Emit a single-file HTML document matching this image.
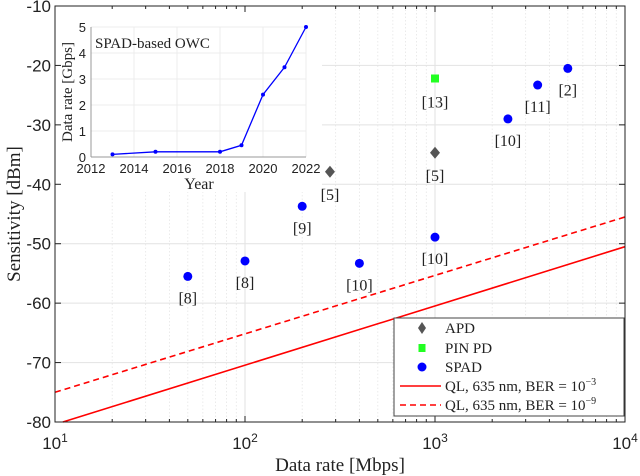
<!DOCTYPE html>
<html><head><meta charset="utf-8"><style>
body{margin:0;background:#fff}
svg{display:block}
text{font-family:"Liberation Sans",sans-serif}
.serif{font-family:"Liberation Serif",serif}
</style></head><body>
<svg id="chart" width="640" height="476" viewBox="0 0 640 476"></svg>
<script>
// main chart data
const apdRates=[280,1000];
const apdSens=[-37.9,-34.7];
const apdRefs=["[5]","[5]"];
const pinRates=[1000];
const pinSens=[-22.2];
const pinRefs=["[13]"];
const spadRates=[50,100,200,400,1000,2420,3470,5000];
const spadSens=[-55.5,-52.9,-43.7,-53.3,-48.9,-29.0,-23.3,-20.5];
const spadRefs=["[8]","[8]","[9]","[10]","[10]","[10]","[11]","[2]"];
const qlRates=[11,10000];
const ql3Sens=[-80,-50.5];
const ql9Sens=[-75,-45.5];
const yTicks=[-10,-20,-30,-40,-50,-60,-70,-80];
const xDecades=[1,2,3,4];
// inset data
const insetYears=[2013,2015,2018,2019,2020,2021,2022];
const insetRates=[0.1,0.2,0.2,0.45,2.4,3.45,5];
const insetXTicks=[2012,2014,2016,2018,2020,2022];
const insetYTicks=[0,1,2,3,4,5];

const NS="http://www.w3.org/2000/svg";
const svg=document.getElementById('chart');
function mk(tag,attrs,parent,txt){const e=document.createElementNS(NS,tag);for(const k in attrs)e.setAttribute(k,attrs[k]);if(txt!==undefined)e.textContent=txt;(parent||svg).appendChild(e);return e;}
const L=55,R=625,T=6,B=422;
const xs=v=>L+(Math.log10(v)-1)/3*(R-L);
const ys=v=>T+(-10-v)/70*(B-T);

// grid
let g=mk('g',{});


for(let d=1;d<4;d++)for(let m=1;m<10;m++){const x=xs(m*Math.pow(10,d));if(m===1)mk('line',{x1:x,x2:x,y1:T,y2:B,stroke:'#e2e2e2','stroke-width':1},g);else mk('line',{x1:x,x2:x,y1:T,y2:B,stroke:'#e6e6e6','stroke-width':0.8,'stroke-dasharray':'1.5,2'},g);}
yTicks.forEach(v=>mk('line',{x1:L,x2:R,y1:ys(v),y2:ys(v),stroke:'#e2e2e2','stroke-width':1},g));

// inset background
const inBg=mk('rect',{x:56,y:8,width:266,height:184,fill:'#fff'});



// QL lines
const l3=mk('line',{x1:xs(qlRates[0]),y1:ys(ql3Sens[0]),x2:xs(qlRates[1]),y2:ys(ql3Sens[1]),stroke:'#f00','stroke-width':1.6});


const l9=mk('line',{x1:xs(10),y1:ys(ql9Sens[0]),x2:xs(qlRates[1]),y2:ys(ql9Sens[1]),stroke:'#f00','stroke-width':1.6,'stroke-dasharray':'6,4'});



function label(x,y,t){const e=mk('text',{x:x,y:y,'text-anchor':'middle','font-size':16,fill:'#222',class:'serif'},svg,t);}
apdRates.forEach((r,i)=>{const x=xs(r),y=ys(apdSens[i]);const p=mk('polygon',{points:`${x},${y-6} ${x+5},${y} ${x},${y+6} ${x-5},${y}`,fill:'#555'});label(x,y+28,apdRefs[i]);});
pinRates.forEach((r,i)=>{const x=xs(r),y=ys(pinSens[i]);const p=mk('rect',{x:x-4,y:y-4,width:8,height:8,fill:'#2f2'});label(x,y+29,pinRefs[i]);});
spadRates.forEach((r,i)=>{const x=xs(r),y=ys(spadSens[i]);const p=mk('circle',{cx:x,cy:y,r:4.5,fill:'#00f'});label(x,y+27,spadRefs[i]);});

// axes box and ticks
const ax=mk('rect',{x:L,y:T,width:R-L,height:B-T,fill:'none',stroke:'#222','stroke-width':1});


for(let d=1;d<4;d++)for(let m=1;m<10;m++){const x=xs(m*Math.pow(10,d));const len=m===1?6:3;mk('line',{x1:x,x2:x,y1:B,y2:B-len,stroke:'#222'});mk('line',{x1:x,x2:x,y1:T,y2:T+len,stroke:'#222'});}
yTicks.forEach(v=>{const y=ys(v);mk('line',{x1:L,x2:L+6,y1:y,y2:y,stroke:'#222'});mk('line',{x1:R,x2:R-6,y1:y,y2:y,stroke:'#222'});
 const t=mk('text',{x:L-4,y:y+6,'text-anchor':'end','font-size':17,fill:'#222'},svg,String(v));});
xDecades.forEach(d=>{const x=xs(Math.pow(10,d));const t=mk('text',{x:x,y:449,'text-anchor':'middle','font-size':17,fill:'#222'});t.appendChild(document.createTextNode('10'));const s=mk('tspan',{dy:-7,'font-size':12},t,String(d));});
const xt=mk('text',{x:340,y:471,'text-anchor':'middle','font-size':19,fill:'#222',class:'serif'},svg,'Data rate [Mbps]');


const yt=mk('text',{x:0,y:0,'text-anchor':'middle','font-size':19,fill:'#222',class:'serif',transform:'translate(20,214) rotate(-90)'},svg,'Sensitivity [dBm]');



// legend
const lg=mk('g',{});


mk('rect',{x:394,y:318,width:230,height:98,fill:'#fff',stroke:'#444','stroke-width':1},lg);
const rows=[328,348,367,386,405];
const names=['APD','PIN PD','SPAD','QL, 635 nm, BER = 10','QL, 635 nm, BER = 10'];
mk('polygon',{points:`422,${rows[0]-6} 426,${rows[0]} 422,${rows[0]+6} 418,${rows[0]}`,fill:'#555'},lg);
mk('rect',{x:418.5,y:rows[1]-4,width:7,height:8,fill:'#2f2'},lg);
mk('circle',{cx:422,cy:rows[2],r:4.5,fill:'#00f'},lg);
mk('line',{x1:400,x2:441,y1:rows[3],y2:rows[3],stroke:'#f00','stroke-width':1.6},lg);
mk('line',{x1:400,x2:441,y1:rows[4],y2:rows[4],stroke:'#f00','stroke-width':1.6,'stroke-dasharray':'6,4'},lg);
names.forEach((n,i)=>{const t=mk('text',{x:445,y:rows[i]+5,'font-size':15,fill:'#222',class:'serif'},lg,n);if(i>=3)mk('tspan',{dy:-6,'font-size':10},t,i===3?'−3':'−9');});

// inset
const iL=91,iR=306,iT=27,iB=157;
const ixs=v=>iL+(v-2012)/10*(iR-iL);
const iys=v=>iB-v/5*(iB-iT);
const ig=mk('g',{});


insetXTicks.forEach(v=>{mk('line',{x1:ixs(v),x2:ixs(v),y1:iT,y2:iB,stroke:'#ececec'},ig);const t=mk('text',{x:ixs(v),y:iB+16,'text-anchor':'middle','font-size':13,fill:'#222'},ig,String(v));});
insetYTicks.forEach(v=>{mk('line',{x1:iL,x2:iR,y1:iys(v),y2:iys(v),stroke:'#ececec'},ig);const t=mk('text',{x:iL-5,y:iys(v)+5,'text-anchor':'end','font-size':13,fill:'#222'},ig,String(v));});
mk('line',{x1:iL,x2:iL,y1:iT,y2:iB,stroke:'#999'},ig);
mk('line',{x1:iL,x2:iR,y1:iB,y2:iB,stroke:'#999'},ig);
const ipl=mk('polyline',{points:insetYears.map((y,i)=>ixs(y)+','+iys(insetRates[i])).join(' '),fill:'none',stroke:'#00f','stroke-width':1.3},ig);


insetYears.forEach((y,i)=>{const c=mk('circle',{cx:ixs(y),cy:iys(insetRates[i]),r:2,fill:'#00f'},ig);});
const it=mk('text',{x:95,y:48,'font-size':15,fill:'#222',class:'serif'},ig,'SPAD-based OWC');


const ixt=mk('text',{x:199,y:189,'text-anchor':'middle','font-size':16,fill:'#222',class:'serif'},ig,'Year');


const iyt=mk('text',{x:0,y:0,'text-anchor':'middle','font-size':15,fill:'#222',class:'serif',transform:'translate(72,92) rotate(-90)'},ig,'Data rate [Gbps]');


</script>
</body></html>
